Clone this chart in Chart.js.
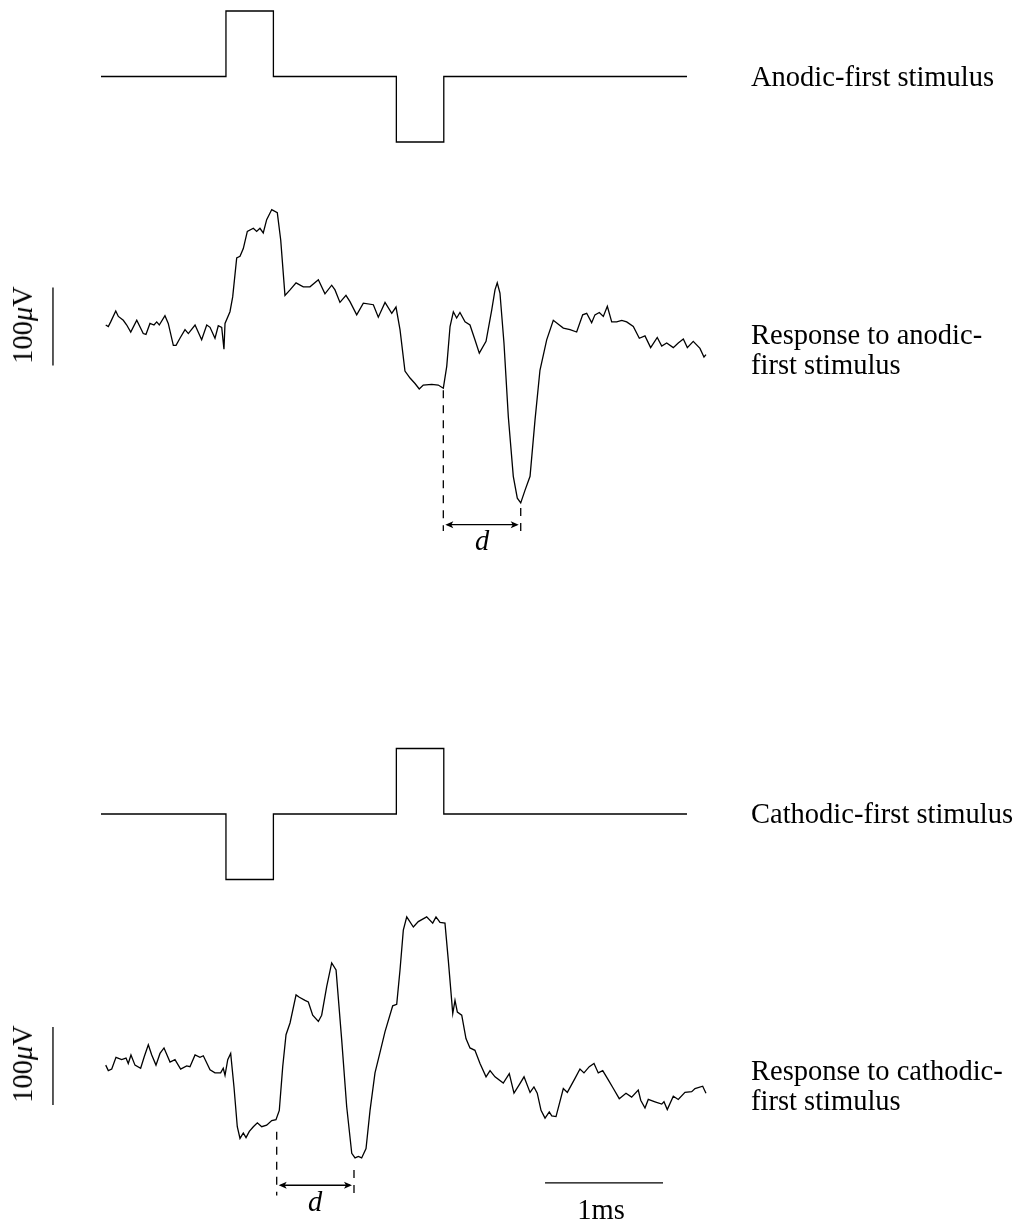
<!DOCTYPE html>
<html>
<head>
<meta charset="utf-8">
<script src="https://cdn.jsdelivr.net/npm/chart.js@4.4.0/dist/chart.umd.min.js"></script>
<style>
  html, body { margin: 0; padding: 0; background: #fff; }
  #wrap { position: relative; width: 1022px; height: 1225px; overflow: hidden; }
  #fig { position: absolute; left: 0; top: 0; }
  .lbl {
    position: absolute;
    font-family: "Liberation Serif", "DejaVu Serif", serif;
    font-size: 28.5px;
    line-height: 30px;
    color: #000;
    white-space: nowrap;
  }
  .mid { transform: translateX(-50%); }
  .rot { transform: translate(-50%, -50%) rotate(-90deg); }
</style>
</head>
<body>
<div id="wrap">
  <canvas id="fig" width="1022" height="1225"></canvas>
  <div class="lbl" style="left:751px; top:62px;">Anodic-first stimulus</div>
  <div class="lbl" style="left:751px; top:320px;">Response to anodic-<br>first stimulus</div>
  <div class="lbl" style="left:751px; top:799px;">Cathodic-first stimulus</div>
  <div class="lbl" style="left:751px; top:1056px;">Response to cathodic-<br>first stimulus</div>
  <div class="lbl rot" style="left:23px; top:325px;">100<i>μ</i>V</div>
  <div class="lbl rot" style="left:23px; top:1064px;">100<i>μ</i>V</div>
  <div class="lbl mid" style="left:482px; top:526px;"><i>d</i></div>
  <div class="lbl mid" style="left:315px; top:1187px;"><i>d</i></div>
  <div class="lbl mid" style="left:601px; top:1195px;">1ms</div>
</div>
<script>
// stimulus: edges in ms, level held after each edge
const stimEdges = [0, 1.059, 1.461, 2.503, 2.905, 4.966];
const stimLevels1 = [0, 1, 0, -1, 0, 0];   // anodic-first
const stimLevels2 = [0, -1, 0, 1, 0, 0];   // cathodic-first

// response to anodic-first stimulus (ms, µV)
const respTime1 = [0.040,0.062,0.082,0.125,0.147,0.189,0.218,0.252,0.303,0.358,0.381,0.415,0.449,0.472,0.494,0.542,0.570,0.613,0.636,0.669,0.712,0.740,0.797,0.853,0.896,0.924,0.966,0.994,1.023,1.042,1.051,1.093,1.116,1.150,1.178,1.206,1.240,1.291,1.319,1.347,1.375,1.404,1.447,1.494,1.523,1.559,1.602,1.653,1.714,1.771,1.842,1.898,1.955,1.983,2.025,2.076,2.110,2.167,2.223,2.308,2.350,2.407,2.464,2.500,2.534,2.576,2.619,2.661,2.697,2.731,2.803,2.858,2.901,2.930,2.958,2.986,3.014,3.042,3.085,3.127,3.169,3.206,3.263,3.311,3.339,3.358,3.381,3.415,3.452,3.494,3.528,3.557,3.593,3.636,3.678,3.720,3.777,3.833,3.884,3.918,3.975,4.031,4.082,4.116,4.158,4.186,4.223,4.257,4.291,4.328,4.370,4.413,4.455,4.511,4.562,4.610,4.658,4.714,4.752,4.794,4.850,4.892,4.935,4.969,5.019,5.076,5.110,5.127];
const respUv1 = [0,-2,4,18,11,6,0,-9,6,-11,-12,2,0,4,0,12,2,-26,-26,-17,-6,-11,0,-19,0,-3,-17,-1,-3,-31,2,17,36,86,88,98,120,124,120,124,118,135,148,144,109,38,45,54,49,49,58,40,51,45,29,38,30,13,28,26,10,29,15,23,-6,-59,-68,-75,-82,-77,-76,-77,-81,-53,-2,17,9,16,4,0,-19,-36,-21,19,45,54,41,-23,-118,-194,-222,-228,-212,-194,-122,-58,-19,6,0,-4,-6,-9,13,15,3,13,16,11,24,4,4,6,4,-2,-17,-14,-29,-16,-27,-23,-29,-23,-18,-29,-21,-30,-41,-38];

// response to cathodic-first stimulus (ms, µV)
const respTime2 = [0.040,0.062,0.091,0.127,0.175,0.212,0.231,0.254,0.288,0.336,0.367,0.401,0.430,0.466,0.500,0.534,0.585,0.627,0.675,0.726,0.754,0.797,0.839,0.867,0.924,0.966,1.014,1.036,1.051,1.074,1.099,1.127,1.155,1.178,1.206,1.229,1.257,1.291,1.325,1.362,1.404,1.447,1.483,1.511,1.540,1.568,1.602,1.653,1.681,1.729,1.757,1.794,1.842,1.870,1.913,1.955,1.992,2.040,2.082,2.125,2.153,2.181,2.209,2.246,2.280,2.322,2.364,2.407,2.472,2.506,2.534,2.562,2.591,2.647,2.689,2.760,2.811,2.839,2.873,2.915,2.943,2.981,3.000,3.020,3.057,3.093,3.127,3.169,3.212,3.263,3.297,3.339,3.409,3.460,3.500,3.545,3.585,3.636,3.669,3.697,3.729,3.763,3.799,3.820,3.856,3.918,3.952,4.017,4.059,4.093,4.138,4.178,4.214,4.252,4.299,4.342,4.392,4.449,4.497,4.553,4.574,4.610,4.638,4.695,4.752,4.771,4.799,4.850,4.892,4.949,5.006,5.034,5.099,5.127];
const respUv2 = [-4,-11,-9,6,3,5,-2,9,-4,-8,7,22,9,-4,11,18,0,3,-9,-5,-6,9,6,8,-10,-14,-14,-8,-17,3,11,-32,-83,-98,-91,-97,-89,-83,-78,-83,-81,-75,-74,-62,-6,35,50,86,83,79,77,60,52,60,97,127,118,28,-57,-117,-123,-121,-123,-111,-62,-14,12,39,72,74,118,169,186,173,180,186,178,186,179,178,131,62,79,64,60,30,18,15,-2,-19,-11,-19,-27,-15,-40,-29,-19,-39,-32,-40,-62,-72,-64,-69,-70,-34,-39,-21,-9,-14,-6,-2,-14,-11,-23,-34,-47,-40,-45,-36,-49,-59,-48,-51,-54,-51,-61,-44,-48,-39,-38,-34,-31,-40];

// latency d (ms) for each response
const dInterval1 = [2.901, 3.557];
const dInterval2 = [1.489, 2.144];

// scale bars
const timeBarMs = [3.763, 4.763];
const uvBar1 = [-52, 48];
const uvBar2 = [-55, 45];

// layout (pixels)
const W = 1022, H = 1225;
const X0 = 101, PX_PER_MS = 118;
const PX_PER_UV = 0.78, PX_PER_STIM = 65.5;
const stim1Base = 76.5, resp1Base = 325, stim2Base = 814, resp2Base = 1062;

function yAxis(basePx, k) {
  return { type: 'linear', axis: 'y', position: 'left', display: false,
           min: (basePx - H) / k, max: basePx / k };
}

function pts(xs, ys) {
  return xs.map((x, i) => ({ x: x, y: ys[i] }));
}

function trace(data, axis, stepped) {
  return {
    data: data,
    yAxisID: axis,
    borderColor: '#000',
    borderWidth: 1.3,
    pointRadius: 0,
    tension: 0,
    stepped: stepped || false,
    fill: false,
    clip: false
  };
}

function arrowHead(ctx, x, y, dir) {
  ctx.beginPath();
  ctx.moveTo(x, y);
  ctx.lineTo(x - dir * 8, y - 3.5);
  ctx.lineTo(x - dir * 6, y);
  ctx.lineTo(x - dir * 8, y + 3.5);
  ctx.closePath();
  ctx.fill();
}

const annotations = {
  id: 'annotations',
  afterDatasetsDraw(chart) {
    const ctx = chart.ctx;
    const xs = chart.scales.x;
    ctx.save();
    ctx.strokeStyle = '#000';
    ctx.fillStyle = '#000';
    ctx.lineWidth = 1.3;

    // latency markers
    const marks = [
      { axis: 'yR1', d: dInterval1, tops: [-81, -232], bottom: -264, arrow: -256 },
      { axis: 'yR2', d: dInterval2, tops: [-87, -136], bottom: -171, arrow: -158 }
    ];
    marks.forEach(m => {
      const ys = chart.scales[m.axis];
      const xa = xs.getPixelForValue(m.d[0]);
      const xb = xs.getPixelForValue(m.d[1]);
      ctx.setLineDash([8, 7]);
      [xa, xb].forEach((x, i) => {
        ctx.beginPath();
        ctx.moveTo(x, ys.getPixelForValue(m.tops[i]) + 2);
        ctx.lineTo(x, ys.getPixelForValue(m.bottom));
        ctx.stroke();
      });
      ctx.setLineDash([]);
      const ya = ys.getPixelForValue(m.arrow);
      ctx.beginPath();
      ctx.moveTo(xa + 4, ya);
      ctx.lineTo(xb - 4, ya);
      ctx.stroke();
      arrowHead(ctx, xa + 2, ya, -1);
      arrowHead(ctx, xb - 2, ya, 1);
    });

    // 100 µV bars
    const barX = xs.getPixelForValue(-0.407);
    [['yR1', uvBar1], ['yR2', uvBar2]].forEach(([id, v]) => {
      const ys = chart.scales[id];
      ctx.beginPath();
      ctx.moveTo(barX, ys.getPixelForValue(v[0]));
      ctx.lineTo(barX, ys.getPixelForValue(v[1]));
      ctx.stroke();
    });

    // 1 ms bar
    const yb = chart.scales.yR2.getPixelForValue(-155);
    ctx.beginPath();
    ctx.moveTo(xs.getPixelForValue(timeBarMs[0]), yb);
    ctx.lineTo(xs.getPixelForValue(timeBarMs[1]), yb);
    ctx.stroke();
    ctx.restore();
  }
};

new Chart(document.getElementById('fig').getContext('2d'), {
  type: 'line',
  data: {
    datasets: [
      trace(pts(stimEdges, stimLevels1), 'yS1', 'before'),
      trace(pts(respTime1, respUv1), 'yR1'),
      trace(pts(stimEdges, stimLevels2), 'yS2', 'before'),
      trace(pts(respTime2, respUv2), 'yR2')
    ]
  },
  options: {
    responsive: false,
    animation: false,
    events: [],
    layout: { padding: 0 },
    plugins: { legend: { display: false }, tooltip: { enabled: false } },
    scales: {
      x: { type: 'linear', axis: 'x', display: false, min: -X0 / PX_PER_MS, max: (W - X0) / PX_PER_MS },
      yS1: yAxis(stim1Base, PX_PER_STIM),
      yR1: yAxis(resp1Base, PX_PER_UV),
      yS2: yAxis(stim2Base, PX_PER_STIM),
      yR2: yAxis(resp2Base, PX_PER_UV)
    }
  },
  plugins: [annotations]
});
</script>
</body>
</html>
